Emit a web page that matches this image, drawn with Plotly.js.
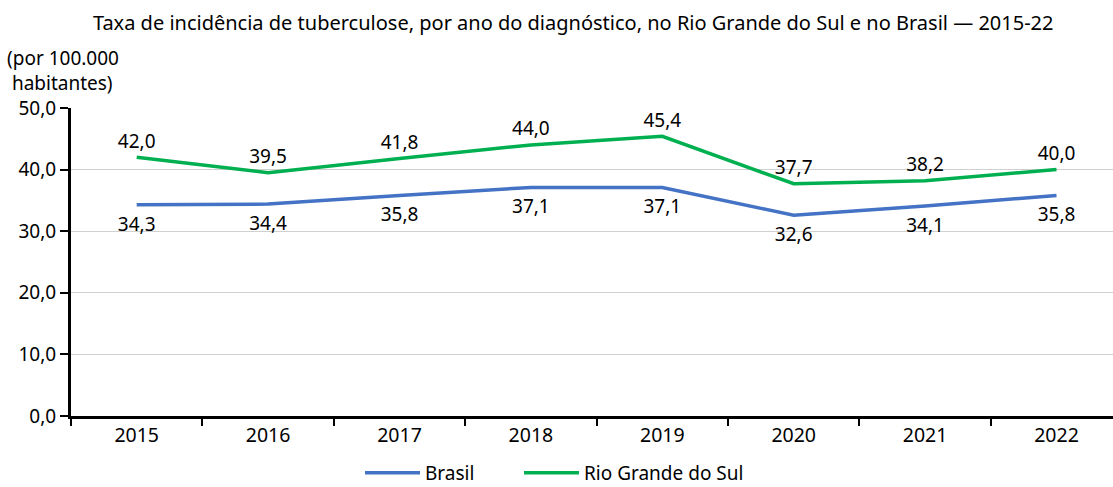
<!DOCTYPE html>
<html>
<head>
<meta charset="utf-8">
<script src="https://cdn.plot.ly/plotly-3.0.1.min.js"></script>
<style>body{margin:0;} #chart{width:1113px;height:487px;}</style>
</head>
<body>
<div id="chart"></div>
<script>
var anos = ['2015', '2016', '2017', '2018', '2019', '2020', '2021', '2022'];
var brasil = [34.3, 34.4, 35.8, 37.1, 37.1, 32.6, 34.1, 35.8];
var rs = [42.0, 39.5, 41.8, 44.0, 45.4, 37.7, 38.2, 40.0];

var fonte = "'Segoe UI', 'Noto Sans', 'Open Sans', sans-serif";

// transparent markers, only used to push the labels away from the line
var traceBR = {
  x: anos,
  y: brasil,
  name: 'Brasil',
  type: 'scatter',
  mode: 'lines+markers+text',
  line: {color: '#4472C4', width: 3.5},
  marker: {size: 17, color: 'rgba(0,0,0,0)'},
  texttemplate: '%{y:.1f}',
  textposition: 'bottom center',
  textfont: {size: 19, color: '#000'},
  hoverinfo: 'x+y',
  legend: 'legend'
};

var traceRS = {
  x: anos,
  y: rs,
  name: 'Rio Grande do Sul',
  type: 'scatter',
  mode: 'lines+markers+text',
  line: {color: '#00B050', width: 3.5},
  marker: {size: 6, color: 'rgba(0,0,0,0)'},
  texttemplate: '%{y:.1f}',
  textposition: 'top center',
  textfont: {size: 19, color: '#000'},
  hoverinfo: 'x+y',
  legend: 'legend2'
};

var leg = {
  orientation: 'h',
  xanchor: 'left', xref: 'container',
  y: 14 / 487, yanchor: 'middle', yref: 'container',
  font: {size: 19},
  itemwidth: 55,
  bgcolor: 'rgba(0,0,0,0)'
};

var layout = {
  width: 1113,
  height: 487,
  separators: ',.',
  font: {family: fonte, size: 19, color: '#000'},
  paper_bgcolor: '#fff',
  plot_bgcolor: '#fff',
  margin: {l: 71, r: 0, t: 108, b: 71},
  title: {
    text: 'Taxa de incidência de tuberculose, por ano do diagnóstico, no Rio Grande do Sul e no Brasil — 2015-22',
    font: {size: 20},
    xref: 'container', x: 0.515, xanchor: 'center',
    yref: 'container', y: 0.968, yanchor: 'top'
  },
  showlegend: true,
  legend: Object.assign({}, leg, {x: 360 / 1113}),
  legend2: Object.assign({}, leg, {x: 519 / 1113}),
  xaxis: {
    type: 'category',
    range: [-0.5, 7.43],
    tickson: 'boundaries',
    ticks: 'outside',
    ticklen: 7,
    tickwidth: 2,
    tickcolor: '#000',
    showline: true,
    linecolor: '#000',
    linewidth: 3,
    showgrid: false,
    tickfont: {size: 19.5},
    zeroline: false
  },
  yaxis: {
    range: [0, 50],
    dtick: 10,
    tickformat: '.1f',
    ticks: 'outside',
    ticklen: 8,
    tickwidth: 2,
    tickcolor: '#000',
    showline: true,
    linecolor: '#000',
    linewidth: 3,
    gridcolor: '#d0d0d0',
    gridwidth: 1,
    zeroline: false,
    tickfont: {size: 19}
  },
  annotations: [
    {
      text: '(por 100.000<br> habitantes)',
      xref: 'paper', yref: 'paper',
      x: 0, y: 1, xanchor: 'left', yanchor: 'bottom',
      xshift: -66, yshift: 10,
      align: 'left',
      showarrow: false,
      font: {size: 19}
    }
  ]
};

Plotly.newPlot('chart', [traceBR, traceRS], layout, {displayModeBar: false});
</script>
</body>
</html>
